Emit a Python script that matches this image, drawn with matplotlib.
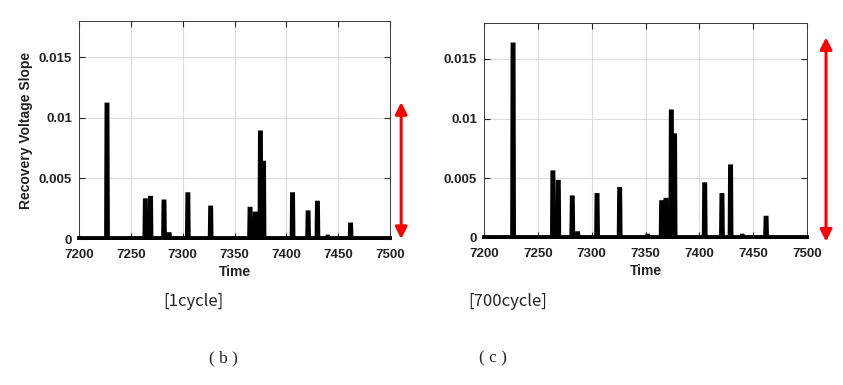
import matplotlib
matplotlib.use("Agg")
import matplotlib.pyplot as plt
import numpy as np

# peaks: time, height
peak_t_1 = [7227, 7264, 7269, 7282, 7287, 7305, 7327, 7365, 7370, 7375, 7378,
            7406, 7421, 7430, 7440, 7462]
peak_v_1 = [0.0111, 0.0032, 0.0034, 0.0031, 0.0004, 0.0037, 0.0026, 0.0025,
            0.0021, 0.0088, 0.0063, 0.0037, 0.0022, 0.0030, 0.0002, 0.0012]

peak_t_2 = [7227, 7264, 7269, 7282, 7287, 7305, 7326, 7352, 7365, 7369, 7374,
            7377, 7405, 7421, 7429, 7440, 7462]
peak_v_2 = [0.0162, 0.0055, 0.0047, 0.0034, 0.0004, 0.0036, 0.0041, 0.0002,
            0.0030, 0.0032, 0.0106, 0.0086, 0.0045, 0.0036, 0.0060, 0.0002,
            0.0017]

xticks = [7200, 7250, 7300, 7350, 7400, 7450, 7500]
yticks = [0, 0.005, 0.01, 0.015]
ytick_labels = ["0", "0.005", "0.01", "0.015"]
captions = ["[1cycle]", "[700cycle]"]
letters = ["( b )", "( c )"]

base_v = 0.00008
line_col = "black"
arrow_col = "#ff0000"
tick_col = "#262626"


def spike_path(ts, vs):
    # turn peak list into a polyline with narrow flat-topped spikes
    x = [7200]
    y = [base_v]
    for t, v in zip(ts, vs):
        x += [t - 0.9, t - 0.5, t + 0.5, t + 0.9]
        y += [base_v, v, v, base_v]
    x.append(7500)
    y.append(base_v)
    return np.array(x), np.array(y)


fig = plt.figure(figsize=(8.43, 3.85), dpi=100)
ax1 = fig.add_axes([79 / 843, 1 - 239 / 385, 311 / 843, 218 / 385])
ax2 = fig.add_axes([484 / 843, 1 - 238 / 385, 323 / 843, 215 / 385])

for ax, ts, vs in [(ax1, peak_t_1, peak_v_1), (ax2, peak_t_2, peak_v_2)]:
    x, y = spike_path(ts, vs)
    ax.plot(x, y, color=line_col, lw=2.8, solid_joinstyle="miter", clip_on=False,
            zorder=3)
    ax.set_xlim(7200, 7500)
    ax.set_ylim(0, 0.018)
    ax.set_xticks(xticks)
    ax.set_yticks(yticks)
    ax.set_yticklabels(ytick_labels)
    ax.grid(True, color="#dcdcdc", lw=0.8)
    ax.set_axisbelow(True)
    ax.tick_params(direction="in", top=True, right=True, length=4,
                   color=tick_col, labelsize=9.5, labelcolor="#222222")
    ax.tick_params(axis="x", pad=7)
    ax.tick_params(axis="y", pad=5)
    for lab in ax.get_xticklabels() + ax.get_yticklabels():
        lab.set_fontweight("bold")
        lab.set_family("Liberation Sans")
    for sp in ax.spines.values():
        sp.set_color("#3a3a3a")
        sp.set_linewidth(0.7)
    ax.set_xlabel("Time", fontsize=10, fontweight="bold", family="Liberation Sans",
                  color="#222222", labelpad=3)

ax1.set_ylabel("Recovery Voltage Slope", fontsize=10, fontweight="bold",
               family="Liberation Sans", color="#222222", labelpad=4)

# red double arrows
arrow_kw = dict(arrowstyle="<|-|>,head_width=0.35,head_length=0.7",
                color=arrow_col, lw=2.2, shrinkA=0, shrinkB=0)
ax1.annotate("", xy=(1.036, 0.0113), xytext=(1.036, 0.0),
             xycoords=("axes fraction", "data"),
             textcoords=("axes fraction", "data"), arrowprops=arrow_kw,
             annotation_clip=False)
ax2.annotate("", xy=(1.059, 0.0168), xytext=(1.059, -0.0003),
             xycoords=("axes fraction", "data"),
             textcoords=("axes fraction", "data"), arrowprops=arrow_kw,
             annotation_clip=False)

fig.text(193 / 843, 1 - 302 / 385, captions[0], ha="center", va="center",
         fontsize=12, family=["Noto Sans CJK SC", "DejaVu Sans"], color="#222222")
fig.text(508 / 843, 1 - 301 / 385, captions[1], ha="center", va="center",
         fontsize=12, family=["Noto Sans CJK SC", "DejaVu Sans"], color="#222222")
fig.text(223 / 843, 1 - 358 / 385, letters[0], ha="center", va="center",
         fontsize=12.5, family="Liberation Serif", color="#222222")
fig.text(493 / 843, 1 - 358 / 385, letters[1], ha="center", va="center",
         fontsize=12.5, family="Liberation Serif", color="#222222")

fig.savefig("out.png", dpi=100, facecolor="white")
